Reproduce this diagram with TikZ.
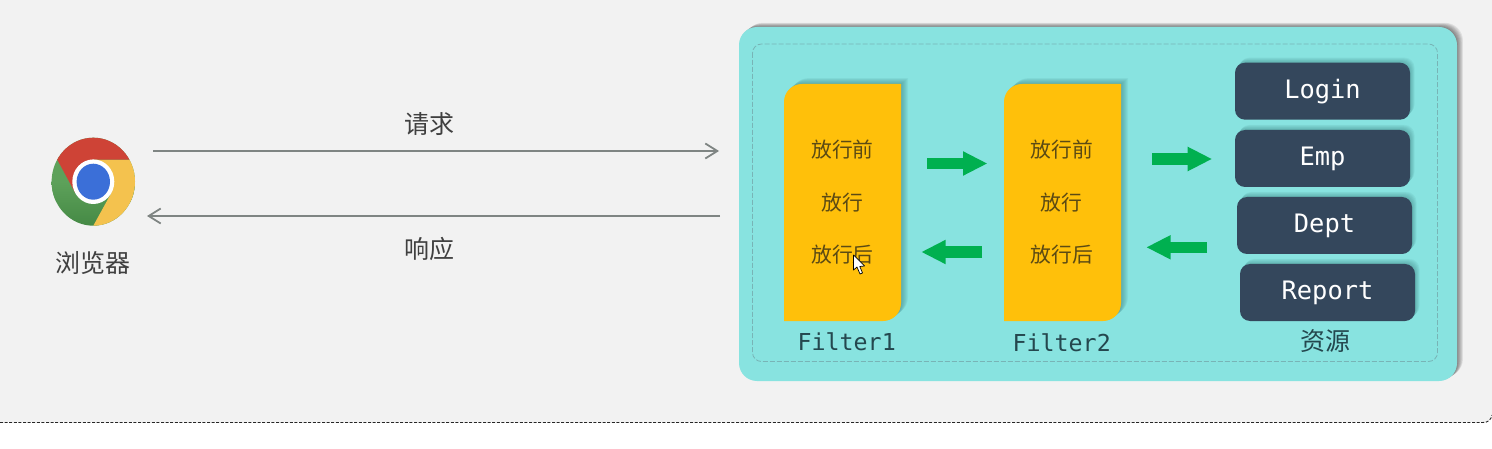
\documentclass[tikz,border=0pt]{standalone}
\usepackage{fontspec}
\setmonofont{DejaVu Sans Mono}
\newfontfamily\cjk{Noto Sans CJK SC}
\usetikzlibrary{arrows.meta}
\definecolor{pagebg}{HTML}{F2F2F2}
\definecolor{panelc}{HTML}{88E3E0}
\definecolor{dashc}{HTML}{78B4B6}
\definecolor{filterc}{HTML}{FFC00A}
\definecolor{greenc}{HTML}{00B050}
\definecolor{resc}{HTML}{34475C}
\definecolor{flowc}{HTML}{7F8583}
\definecolor{txtc}{HTML}{404040}
\definecolor{filtertxt}{HTML}{5B4A14}
\definecolor{labelc}{HTML}{24474E}
\definecolor{shteal}{HTML}{2F6F70}
\tikzset{
  x=1pt,y=-1pt,
  flow/.style={draw=flowc,line width=1.8pt,-{Straight Barb[length=12pt,width=15pt,line width=1.8pt]}},
  blockarrow/.style={draw=greenc,line width=11.4pt,-{Triangle[length=24.5pt,width=22.6pt]}},
  zhlabel/.style={font=\cjk\fontsize{25}{30}\selectfont,text=txtc,inner sep=0pt},
  steptext/.style={font=\cjk\fontsize{20.8}{25}\selectfont,text=filtertxt,inner sep=0pt},
  filterlabel/.style={font=\ttfamily\fontsize{23.3}{28}\selectfont,text=labelc,inner sep=0pt},
  resbox/.style={fill=resc,rounded corners=10pt,minimum width=175pt,minimum height=57pt,inner sep=0pt,
    text height=19pt,text depth=4.5pt,text=white,font=\ttfamily\fontsize{25.4}{30}\selectfont},
}
% #1 colour, #2 max step, #3 x per step, #4 y per step, #5 path
\newcommand\softshadow[5]{%
  \foreach \k in {1,...,#2}{\fill[#1,opacity=.075,shift={(#3*\k,#4*\k)}] #5;}}
\newcommand\filtershape{(0,237) -- (0,18) .. controls (0,8) and (8,0) .. (18,0) -- (117,0) -- (117,219) .. controls (117,229) and (109,237) .. (99,237) -- cycle}
\begin{document}
\begin{tikzpicture}
\useasboundingbox (0,0) rectangle (1492,449);
\fill[white] (0,0) rectangle (1492,449);
% page band
\fill[pagebg] (0,0) -- (1492,0) -- (1492,415) .. controls (1491,420) and (1488,422) .. (1483,422) -- (0,422) -- cycle;
\draw[black!85,line width=.9pt,dash pattern=on 3pt off 1.6pt] (0,422.5) -- (1483,422.5) .. controls (1488,422.5) and (1491,420) .. (1492,415);
% browser logo
\begin{scope}[shift={(93.3,181.7)}]
  \begin{scope}
    \clip (0,0) ellipse[x radius=41.7pt,y radius=44pt];
    \fill[color={rgb,255:red,93;green,161;blue,90}] (-50,-50) rectangle (50,20);
    \shade[top color={rgb,255:red,93;green,161;blue,90},bottom color={rgb,255:red,66;green,134;blue,66}] (-50,0) rectangle (50,50);
    \fill[color={rgb,255:red,244;green,194;blue,78}] (36,-22) -- (0,-22) -- (0,0) -- (18.2,11) -- (0,44) -- (60,60) -- (60,-22) -- cycle;
    \fill[color={rgb,255:red,206;green,67;blue,54}] (-36,-22) -- (-18.2,11) -- (0,0) -- (0,-22) -- (36,-22) -- (60,-22) -- (60,-60) -- (-60,-60) -- (-60,-22) -- cycle;
  \end{scope}
  \fill[white] (0,0) ellipse[x radius=21pt,y radius=22.3pt];
  \fill[color={rgb,255:red,59;green,111;blue,216}] (0,0) ellipse[x radius=16.7pt,y radius=18pt];
\end{scope}
\node[zhlabel] (browser) at (93,263.5) {浏览器};
% request / response
\coordinate (reqa) at (153,151);
\coordinate (reqb) at (719,151);
\coordinate (resa) at (720,216);
\coordinate (resb) at (147,216);
\draw[flow] (reqa) -- (reqb);
\draw[flow] (resa) -- (resb);
\node[zhlabel] (req) at (429.5,124) {请求};
\node[zhlabel] (resp) at (429.5,249) {响应};
% panel
\softshadow{black}{7}{.85}{-.6}{[rounded corners=18pt] (739,27) rectangle (1457,381)}
\fill[panelc,rounded corners=18pt] (739,27) rectangle (1457,381);
\draw[dashc,line width=.8pt,dash pattern=on 5pt off 2pt,rounded corners=9pt] (752.5,44) rectangle (1437.5,361.5);
% filters
\begin{scope}[shift={(784,84)}]
  \softshadow{shteal}{7}{1}{-.85}{\filtershape}
  \fill[filterc] \filtershape;
\end{scope}
\begin{scope}[shift={(1004,84)}]
  \softshadow{shteal}{7}{1}{-.85}{\filtershape}
  \fill[filterc] \filtershape;
\end{scope}
\node[steptext] (fa1) at (842.5,150) {放行前};
\node[steptext] (fa2) at (842.5,203) {放行};
\node[steptext] (fa3) at (842.5,255) {放行后};
\node[steptext] (fb1) at (1061.7,150) {放行前};
\node[steptext] (fb2) at (1061.7,203) {放行};
\node[steptext] (fb3) at (1061.7,255) {放行后};
\node[filterlabel] (fl1) at (846.7,341.7) {Filter1};
\node[filterlabel] (fl2) at (1061.7,342.5) {Filter2};
% green arrows
\coordinate (g1a) at (927,163.5); \coordinate (g1b) at (987.5,163.5);
\coordinate (g2a) at (982,252); \coordinate (g2b) at (921.2,252);
\coordinate (g3a) at (1152,159); \coordinate (g3b) at (1212.2,159);
\coordinate (g4a) at (1207,247.3); \coordinate (g4b) at (1146.2,247.3);
\draw[blockarrow] (g1a) -- (g1b);
\draw[blockarrow] (g2a) -- (g2b);
\draw[blockarrow] (g3a) -- (g3b);
\draw[blockarrow] (g4a) -- (g4b);
% resources
\softshadow{shteal}{6}{.75}{-.85}{[rounded corners=10pt] (1235,62.7) rectangle (1410,119.7)}
\softshadow{shteal}{6}{.75}{-.85}{[rounded corners=10pt] (1235,130) rectangle (1410,187)}
\softshadow{shteal}{6}{.75}{-.85}{[rounded corners=10pt] (1237,197) rectangle (1412,254)}
\softshadow{shteal}{6}{.75}{-.85}{[rounded corners=10pt] (1240,264) rectangle (1415,321)}
\node[resbox] (login) at (1322.5,91.2) {Login};
\node[resbox] (emp) at (1322.5,158.5) {Emp};
\node[resbox] (dept) at (1324.5,225.5) {Dept};
\node[resbox] (report) at (1327.5,292.5) {Report};
\node[zhlabel,text=labelc] (res) at (1325.7,340.7) {资源};
% mouse pointer
\draw[black,line width=.7pt,fill=white,line join=round] (853.5,255) -- (853.5,270) -- (857,267) -- (860,274) -- (862.5,273) -- (859.8,266.5) -- (864.5,266) -- cycle;
\end{tikzpicture}
\end{document}
